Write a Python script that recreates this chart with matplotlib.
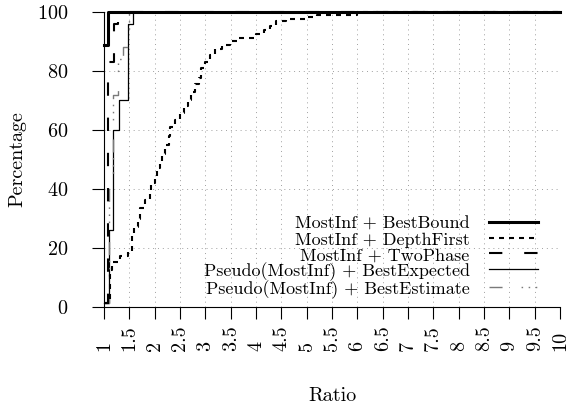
import matplotlib
matplotlib.use("Agg")
import matplotlib.pyplot as plt

plt.rcParams["font.family"] = ["cmr10", "DejaVu Serif"]
plt.rcParams["mathtext.fontset"] = "cm"
plt.rcParams["axes.unicode_minus"] = False
plt.rcParams["axes.formatter.use_mathtext"] = True

# performance profiles: ratio where the curve steps up, and percentage reached
bb_ratio = [1.0, 1.085, 10.0]
bb_pct = [88.8, 100, 100]

df_ratio = [1.0, 1.12, 1.15, 1.32, 1.48, 1.55, 1.6, 1.68, 1.72, 1.8, 1.9, 1.92,
            2.0, 2.05, 2.1, 2.15, 2.2, 2.28, 2.3, 2.4, 2.5, 2.58, 2.66, 2.72,
            2.8, 2.88, 2.92, 3.0, 3.1, 3.2, 3.33, 3.48, 3.62, 4.0, 4.15, 4.27,
            4.4, 4.6, 5.0, 5.2, 6.0, 10.0]
df_pct = [1.2, 12.5, 15.4, 17.3, 18.7, 24, 27, 30, 33.6, 36.3, 38.5, 42,
          44, 47, 49, 52, 55, 58, 61, 63.4, 65.8, 68, 70, 73,
          75.5, 77.7, 81, 83, 85.4, 87.3, 88.8, 90, 91.3, 92.5, 93.9, 95.3,
          97, 97.6, 98.4, 98.9, 100, 100]

tp_ratio = [1.0, 1.085, 1.19, 1.28, 10.0]
tp_pct = [1.2, 83, 96, 100, 100]

bx_ratio = [1.0, 1.1, 1.18, 1.3, 1.48, 1.58, 10.0]
bx_pct = [1.2, 26, 60, 70, 96, 100, 100]

be_ratio = [1.0, 1.1, 1.18, 1.28, 1.38, 1.5, 10.0]
be_pct = [1.2, 41, 72, 84, 88, 100, 100]

labels = ["MostInf + BestBound", "MostInf + DepthFirst", "MostInf + TwoPhase",
          "Pseudo(MostInf) + BestExpected", "Pseudo(MostInf) + BestEstimate"]

xticks = [1, 1.5, 2, 2.5, 3, 3.5, 4, 4.5, 5, 5.5, 6, 6.5, 7, 7.5, 8, 8.5, 9, 9.5, 10]
xticklabels = ["1", "1.5", "2", "2.5", "3", "3.5", "4", "4.5", "5", "5.5",
               "6", "6.5", "7", "7.5", "8", "8.5", "9", "9.5", "10"]
yticks = [0, 20, 40, 60, 80, 100]

fig = plt.figure(figsize=(5.71, 4.07), dpi=100)
ax = fig.add_axes([104 / 571, 1 - 307 / 407, 456 / 571, 295 / 407])

fs = 14.5

ax.plot(bb_ratio, bb_pct, drawstyle="steps-post", color="black", lw=2.2,
        label=labels[0], clip_on=False, zorder=5)
ax.plot(df_ratio, df_pct, drawstyle="steps-post", color="black", lw=1.5,
        linestyle=(0, (2.4, 2.4)), label=labels[1], clip_on=False, zorder=4)
ax.plot(tp_ratio, tp_pct, drawstyle="steps-post", color="black", lw=1.5,
        linestyle=(0, (6.4, 10.5)), label=labels[2], clip_on=False, zorder=4)
ax.plot(bx_ratio, bx_pct, drawstyle="steps-post", color="black", lw=0.9,
        label=labels[3], clip_on=False, zorder=3)
ax.plot(be_ratio, be_pct, drawstyle="steps-post", color="#7a7a7a", lw=1.0,
        linestyle=(0, (9.4, 13.7, 1.1, 4, 1.1, 4, 1.1, 4)),
        label=labels[4], clip_on=False, zorder=3)

ax.set_xlim(1, 10)
ax.set_ylim(0, 100)
ax.set_xticks(xticks)
ax.set_xticklabels(xticklabels, rotation=90, va="bottom", ha="center")
ax.set_yticks(yticks)
ax.tick_params(axis="x", direction="out", length=8.6, width=0.8, pad=23,
               labelsize=fs)
ax.tick_params(axis="y", direction="out", length=8.6, width=0.8, pad=17,
               labelsize=fs)

for side in ["top", "right"]:
    ax.spines[side].set_visible(False)
for side in ["left", "bottom"]:
    ax.spines[side].set_linewidth(0.8)

ax.grid(True, color="#a0a0a0", lw=0.7, linestyle=(0, (1, 4)))
ax.set_axisbelow(True)

ax.set_xlabel("Ratio", fontsize=fs, labelpad=26)
ax.set_ylabel("Percentage", fontsize=fs, labelpad=8)

# key sits in the lower right, labels right-aligned against the line samples
ax.legend(loc="center right", bbox_to_anchor=(0.952, 0.17), frameon=False,
          markerfirst=False, fontsize=13, handlelength=2.7, handletextpad=1.1,
          handleheight=1.0, labelspacing=-0.08, borderpad=0, borderaxespad=0)

fig.savefig("out.png", dpi=100)
